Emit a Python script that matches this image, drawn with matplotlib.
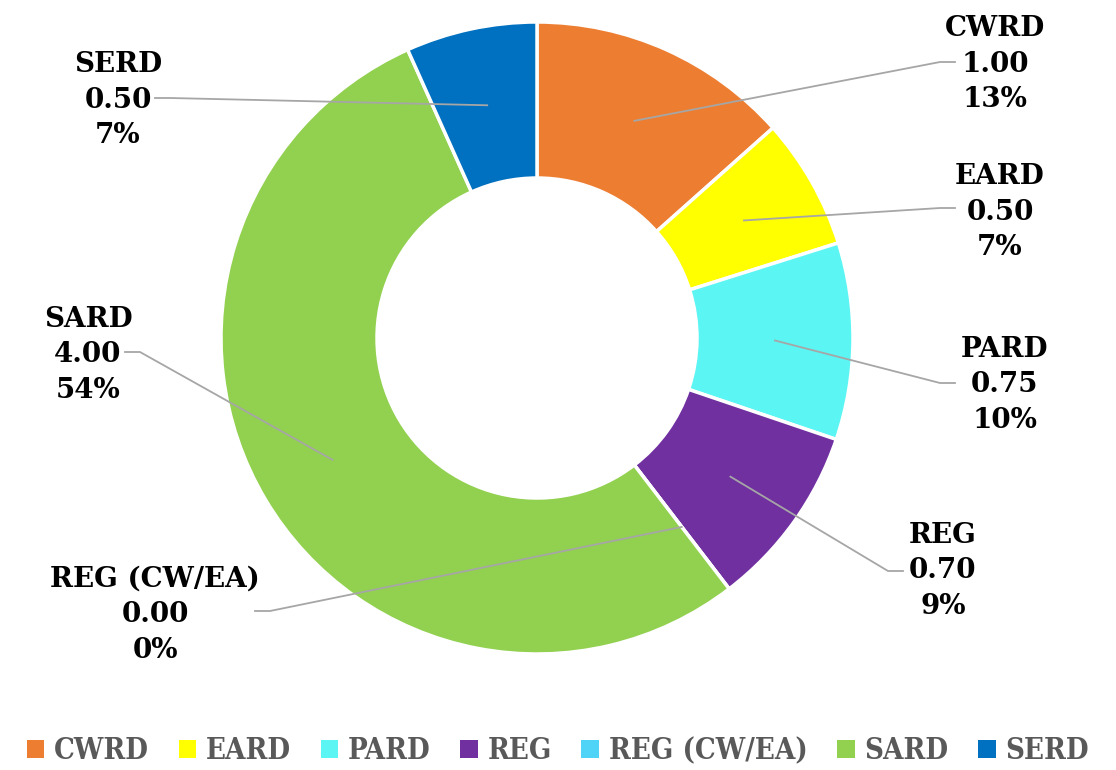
import matplotlib

matplotlib.use("Agg")
import matplotlib.pyplot as plt
from matplotlib.patches import Patch
import numpy as np

categories = ["CWRD", "EARD", "PARD", "REG", "REG (CW/EA)", "SARD", "SERD"]
values = [1.00, 0.50, 0.75, 0.70, 0.00, 4.00, 0.50]
colors = ["#ED7D31", "#FFFF00", "#5BF5F3", "#7030A0", "#4FD3F7", "#92D050", "#0070C0"]

# label text centre and the elbow of each leader line (pixel coords, y from top)
label_pos = [(995, 64), (1000, 212), (1005, 385), (943, 571), (155, 615), (88, 355), (118, 100)]
elbow = [(940, 62), (940, 208), (940, 383), (888, 571), (270, 611), (140, 352), (170, 98)]

W, H = 1116, 770
CX, CY = 537, H - 338
R_OUT, R_IN = 316, 160

fig = plt.figure(figsize=(W / 100, H / 100), dpi=100)
ax = fig.add_axes([0, 0, 1, 1])
ax.set_xlim(0, W)
ax.set_ylim(0, H)
ax.set_aspect("equal")
ax.axis("off")

wedges, _ = ax.pie(values, colors=colors, startangle=90, counterclock=False,
                   center=(CX, CY), radius=R_OUT,
                   wedgeprops=dict(width=R_OUT - R_IN, edgecolor="white", linewidth=2.5))
ax.set_xlim(0, W)
ax.set_ylim(0, H)

total = sum(values)
r_mid = (R_OUT + R_IN) / 2
for i, (name, v) in enumerate(zip(categories, values)):
    w = wedges[i]
    ang = np.deg2rad((w.theta1 + w.theta2) / 2)
    px, py = CX + r_mid * np.cos(ang), CY + r_mid * np.sin(ang)
    ex, ey = elbow[i][0], H - elbow[i][1]
    tx = label_pos[i][0]
    end_x = ex + 15 if tx > ex else ex - 15
    ax.plot([px, ex, end_x], [py, ey, ey], color="#A6A6A6", linewidth=1.3, zorder=3)
    ax.text(tx, H - label_pos[i][1], f"{name}\n{v:.2f}\n{v / total:.0%}",
            ha="center", va="center", fontsize=20, fontweight="bold",
            family="DejaVu Serif", linespacing=1.4, color="black")

handles = [Patch(facecolor=c, edgecolor="none") for c in colors]
leg = ax.legend(handles, categories, loc="lower center", bbox_to_anchor=(0.5, -0.028),
                ncol=7, frameon=False, handlelength=0.6, handleheight=0.6,
                handletextpad=0.35, columnspacing=1.0,
                prop=dict(family="DejaVu Serif", weight="bold", size=21, stretch="condensed"))
for t in leg.get_texts():
    t.set_color("#595959")

fig.savefig("out.png", dpi=100)
